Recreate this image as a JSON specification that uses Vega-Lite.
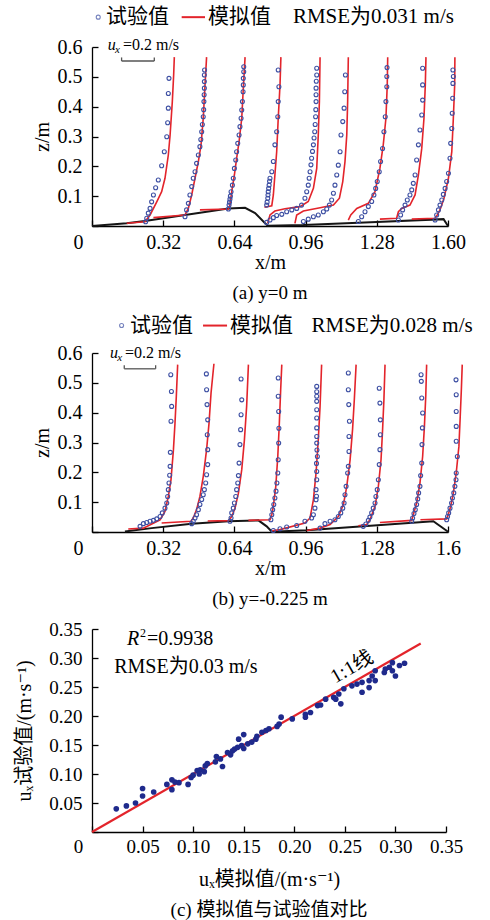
{
"$schema": "https://vega.github.io/schema/vega-lite/v6.json",
"padding": {"left": 14, "top": 6, "right": 0, "bottom": 0},
"spacing": 11,
"config": {
 "view": {"stroke": null},
 "font": "Liberation Serif, Noto Sans CJK SC",
 "axis": {"domainColor": "#000", "domainWidth": 1.3, "tickColor": "#000", "tickWidth": 1.3, "tickSize": -6, "labelFont": "Liberation Serif", "labelFontSize": 20, "labelColor": "#000", "titleFont": "Liberation Serif, DejaVu Serif, Noto Sans CJK SC", "titleFontSize": 20, "titleFontWeight": "normal", "titleColor": "#000", "grid": false, "labelPadding": 12, "labelFlush": false, "labelOverlap": false},
 "title": {"font": "Liberation Serif, Noto Sans CJK SC", "fontSize": 19, "fontWeight": "normal", "color": "#000"},
 "text": {"font": "Liberation Serif, Noto Sans CJK SC", "color": "#000"}
},
"datasets": {
 "bedA": [{"x":0,"z":0},{"x":0.156,"z":0.009},{"x":0.238,"z":0.017},{"x":0.418,"z":0.037},{"x":0.613,"z":0.059},{"x":0.688,"z":0.061},{"x":0.733,"z":0.043},{"x":0.778,"z":0.009},{"x":0.79,"z":0.001},{"x":0.95,"z":0.003},{"x":1.28,"z":0.013},{"x":1.58,"z":0.023},{"x":1.6,"z":0}],
 "simA": [
  {"p":1,"x":0.156,"z":0.009},{"p":1,"x":0.238,"z":0.014},{"p":1,"x":0.261,"z":0.037},{"p":1,"x":0.291,"z":0.081},{"p":1,"x":0.313,"z":0.115},{"p":1,"x":0.328,"z":0.16},{"p":1,"x":0.343,"z":0.238},{"p":1,"x":0.351,"z":0.305},{"p":1,"x":0.361,"z":0.417},{"p":1,"x":0.367,"z":0.506},{"p":1,"x":0.37,"z":0.566},
  {"p":2,"x":0.276,"z":0.028},{"p":2,"x":0.418,"z":0.037},{"p":2,"x":0.433,"z":0.059},{"p":2,"x":0.448,"z":0.104},{"p":2,"x":0.463,"z":0.16},{"p":2,"x":0.478,"z":0.216},{"p":2,"x":0.49,"z":0.272},{"p":2,"x":0.5,"z":0.361},{"p":2,"x":0.508,"z":0.473},{"p":2,"x":0.515,"z":0.566},
  {"p":3,"x":0.485,"z":0.054},{"p":3,"x":0.613,"z":0.057},{"p":3,"x":0.62,"z":0.07},{"p":3,"x":0.628,"z":0.115},{"p":3,"x":0.64,"z":0.171},{"p":3,"x":0.65,"z":0.227},{"p":3,"x":0.661,"z":0.283},{"p":3,"x":0.673,"z":0.361},{"p":3,"x":0.68,"z":0.462},{"p":3,"x":0.688,"z":0.566},
  {"p":4,"x":0.775,"z":0.063},{"p":4,"x":0.808,"z":0.068},{"p":4,"x":0.815,"z":0.104},{"p":4,"x":0.822,"z":0.171},{"p":4,"x":0.83,"z":0.249},{"p":4,"x":0.837,"z":0.361},{"p":4,"x":0.845,"z":0.473},{"p":4,"x":0.849,"z":0.566},
  {"p":5,"x":0.79,"z":0.009},{"p":5,"x":0.8,"z":0.037},{"p":5,"x":0.822,"z":0.05},{"p":5,"x":0.867,"z":0.058},{"p":5,"x":0.935,"z":0.065},{"p":5,"x":0.972,"z":0.082},{"p":5,"x":0.995,"z":0.126},{"p":5,"x":1.01,"z":0.193},{"p":5,"x":1.017,"z":0.305},{"p":5,"x":1.022,"z":0.417},{"p":5,"x":1.025,"z":0.566},
  {"p":6,"x":0.912,"z":0.009},{"p":6,"x":0.92,"z":0.037},{"p":6,"x":0.95,"z":0.05},{"p":6,"x":1.025,"z":0.061},{"p":6,"x":1.085,"z":0.07},{"p":6,"x":1.112,"z":0.093},{"p":6,"x":1.127,"z":0.149},{"p":6,"x":1.137,"z":0.216},{"p":6,"x":1.145,"z":0.305},{"p":6,"x":1.149,"z":0.417},{"p":6,"x":1.152,"z":0.566},
  {"p":7,"x":1.152,"z":0.02},{"p":7,"x":1.163,"z":0.037},{"p":7,"x":1.19,"z":0.059},{"p":7,"x":1.242,"z":0.076},{"p":7,"x":1.272,"z":0.115},{"p":7,"x":1.294,"z":0.193},{"p":7,"x":1.309,"z":0.272},{"p":7,"x":1.321,"z":0.361},{"p":7,"x":1.327,"z":0.473},{"p":7,"x":1.329,"z":0.566},
  {"p":8,"x":1.294,"z":0.023},{"p":8,"x":1.369,"z":0.026},{"p":8,"x":1.377,"z":0.048},{"p":8,"x":1.392,"z":0.059},{"p":8,"x":1.429,"z":0.07},{"p":8,"x":1.452,"z":0.104},{"p":8,"x":1.467,"z":0.171},{"p":8,"x":1.482,"z":0.26},{"p":8,"x":1.492,"z":0.361},{"p":8,"x":1.498,"z":0.473},{"p":8,"x":1.501,"z":0.566},
  {"p":9,"x":1.437,"z":0.023},{"p":9,"x":1.542,"z":0.026},{"p":9,"x":1.552,"z":0.037},{"p":9,"x":1.564,"z":0.054},{"p":9,"x":1.582,"z":0.093},{"p":9,"x":1.602,"z":0.16},{"p":9,"x":1.617,"z":0.249},{"p":9,"x":1.624,"z":0.361},{"p":9,"x":1.63,"z":0.473},{"p":9,"x":1.631,"z":0.566}
 ],
 "expA": [
  {"p":1,"x":0.241,"z":0.014},{"p":1,"x":0.246,"z":0.026},{"p":1,"x":0.253,"z":0.043},{"p":1,"x":0.261,"z":0.059},{"p":1,"x":0.268,"z":0.081},{"p":1,"x":0.276,"z":0.104},{"p":1,"x":0.286,"z":0.128},{"p":1,"x":0.298,"z":0.154},{"p":1,"x":0.313,"z":0.202},{"p":1,"x":0.325,"z":0.249},{"p":1,"x":0.336,"z":0.299},{"p":1,"x":0.34,"z":0.346},{"p":1,"x":0.343,"z":0.395},{"p":1,"x":0.343,"z":0.444},{"p":1,"x":0.346,"z":0.495},
  {"p":2,"x":0.418,"z":0.031},{"p":2,"x":0.425,"z":0.054},{"p":2,"x":0.433,"z":0.076},{"p":2,"x":0.44,"z":0.104},{"p":2,"x":0.448,"z":0.132},{"p":2,"x":0.455,"z":0.16},{"p":2,"x":0.463,"z":0.182},{"p":2,"x":0.47,"z":0.21},{"p":2,"x":0.478,"z":0.238},{"p":2,"x":0.485,"z":0.266},{"p":2,"x":0.489,"z":0.29},{"p":2,"x":0.493,"z":0.316},{"p":2,"x":0.496,"z":0.34},{"p":2,"x":0.5,"z":0.366},{"p":2,"x":0.502,"z":0.39},{"p":2,"x":0.503,"z":0.417},{"p":2,"x":0.504,"z":0.44},{"p":2,"x":0.505,"z":0.462},{"p":2,"x":0.505,"z":0.484},{"p":2,"x":0.505,"z":0.506},{"p":2,"x":0.506,"z":0.523},
  {"p":3,"x":0.613,"z":0.057},{"p":3,"x":0.616,"z":0.07},{"p":3,"x":0.618,"z":0.08},{"p":3,"x":0.62,"z":0.09},{"p":3,"x":0.622,"z":0.1},{"p":3,"x":0.625,"z":0.115},{"p":3,"x":0.631,"z":0.137},{"p":3,"x":0.635,"z":0.16},{"p":3,"x":0.64,"z":0.193},{"p":3,"x":0.646,"z":0.221},{"p":3,"x":0.65,"z":0.249},{"p":3,"x":0.655,"z":0.277},{"p":3,"x":0.661,"z":0.305},{"p":3,"x":0.665,"z":0.333},{"p":3,"x":0.67,"z":0.361},{"p":3,"x":0.673,"z":0.389},{"p":3,"x":0.676,"z":0.417},{"p":3,"x":0.679,"z":0.45},{"p":3,"x":0.68,"z":0.473},{"p":3,"x":0.68,"z":0.495},{"p":3,"x":0.682,"z":0.517},{"p":3,"x":0.682,"z":0.534},
  {"p":4,"x":0.785,"z":0.07},{"p":4,"x":0.787,"z":0.08},{"p":4,"x":0.79,"z":0.093},{"p":4,"x":0.791,"z":0.104},{"p":4,"x":0.792,"z":0.115},{"p":4,"x":0.794,"z":0.126},{"p":4,"x":0.796,"z":0.137},{"p":4,"x":0.798,"z":0.15},{"p":4,"x":0.8,"z":0.16},{"p":4,"x":0.808,"z":0.182},{"p":4,"x":0.815,"z":0.216},{"p":4,"x":0.822,"z":0.272},{"p":4,"x":0.83,"z":0.316},{"p":4,"x":0.835,"z":0.366},{"p":4,"x":0.837,"z":0.417},{"p":4,"x":0.84,"z":0.467},{"p":4,"x":0.837,"z":0.523},
  {"p":5,"x":0.785,"z":0.012},{"p":5,"x":0.8,"z":0.02},{"p":5,"x":0.815,"z":0.028},{"p":5,"x":0.83,"z":0.035},{"p":5,"x":0.853,"z":0.039},{"p":5,"x":0.875,"z":0.048},{"p":5,"x":0.898,"z":0.054},{"p":5,"x":0.92,"z":0.059},{"p":5,"x":0.942,"z":0.07},{"p":5,"x":0.957,"z":0.093},{"p":5,"x":0.965,"z":0.115},{"p":5,"x":0.972,"z":0.137},{"p":5,"x":0.976,"z":0.16},{"p":5,"x":0.98,"z":0.182},{"p":5,"x":0.984,"z":0.205},{"p":5,"x":0.987,"z":0.227},{"p":5,"x":0.991,"z":0.25},{"p":5,"x":0.995,"z":0.272},{"p":5,"x":0.998,"z":0.295},{"p":5,"x":1.001,"z":0.316},{"p":5,"x":1.003,"z":0.34},{"p":5,"x":1.005,"z":0.366},{"p":5,"x":1.006,"z":0.39},{"p":5,"x":1.007,"z":0.417},{"p":5,"x":1.007,"z":0.44},{"p":5,"x":1.007,"z":0.462},{"p":5,"x":1.008,"z":0.485},{"p":5,"x":1.01,"z":0.506},{"p":5,"x":1.01,"z":0.529},
  {"p":6,"x":0.95,"z":0.015},{"p":6,"x":0.972,"z":0.023},{"p":6,"x":0.995,"z":0.031},{"p":6,"x":1.017,"z":0.037},{"p":6,"x":1.04,"z":0.048},{"p":6,"x":1.055,"z":0.057},{"p":6,"x":1.067,"z":0.07},{"p":6,"x":1.077,"z":0.087},{"p":6,"x":1.085,"z":0.11},{"p":6,"x":1.092,"z":0.137},{"p":6,"x":1.1,"z":0.171},{"p":6,"x":1.107,"z":0.204},{"p":6,"x":1.115,"z":0.249},{"p":6,"x":1.119,"z":0.305},{"p":6,"x":1.127,"z":0.35},{"p":6,"x":1.133,"z":0.395},{"p":6,"x":1.136,"z":0.45},{"p":6,"x":1.139,"z":0.506},
  {"p":7,"x":1.197,"z":0.015},{"p":7,"x":1.212,"z":0.031},{"p":7,"x":1.227,"z":0.048},{"p":7,"x":1.242,"z":0.065},{"p":7,"x":1.257,"z":0.082},{"p":7,"x":1.267,"z":0.104},{"p":7,"x":1.275,"z":0.126},{"p":7,"x":1.282,"z":0.149},{"p":7,"x":1.291,"z":0.182},{"p":7,"x":1.297,"z":0.216},{"p":7,"x":1.306,"z":0.26},{"p":7,"x":1.312,"z":0.316},{"p":7,"x":1.318,"z":0.366},{"p":7,"x":1.321,"z":0.417},{"p":7,"x":1.325,"z":0.467},{"p":7,"x":1.325,"z":0.501},{"p":7,"x":1.326,"z":0.531},
  {"p":8,"x":1.377,"z":0.02},{"p":8,"x":1.387,"z":0.037},{"p":8,"x":1.396,"z":0.054},{"p":8,"x":1.407,"z":0.07},{"p":8,"x":1.417,"z":0.087},{"p":8,"x":1.429,"z":0.104},{"p":8,"x":1.437,"z":0.121},{"p":8,"x":1.444,"z":0.143},{"p":8,"x":1.452,"z":0.171},{"p":8,"x":1.459,"z":0.221},{"p":8,"x":1.467,"z":0.272},{"p":8,"x":1.474,"z":0.322},{"p":8,"x":1.482,"z":0.372},{"p":8,"x":1.486,"z":0.422},{"p":8,"x":1.486,"z":0.473},{"p":8,"x":1.486,"z":0.529},
  {"p":9,"x":1.542,"z":0.02},{"p":9,"x":1.549,"z":0.037},{"p":9,"x":1.557,"z":0.054},{"p":9,"x":1.564,"z":0.07},{"p":9,"x":1.572,"z":0.087},{"p":9,"x":1.579,"z":0.106},{"p":9,"x":1.587,"z":0.126},{"p":9,"x":1.594,"z":0.149},{"p":9,"x":1.602,"z":0.177},{"p":9,"x":1.609,"z":0.227},{"p":9,"x":1.612,"z":0.277},{"p":9,"x":1.617,"z":0.327},{"p":9,"x":1.619,"z":0.378},{"p":9,"x":1.621,"z":0.428},{"p":9,"x":1.622,"z":0.478},{"p":9,"x":1.624,"z":0.501},{"p":9,"x":1.622,"z":0.523}
 ],
 "bedB": [{"x":0.148,"z":0.002},{"x":0.268,"z":0.013},{"x":0.448,"z":0.028},{"x":0.613,"z":0.036},{"x":0.748,"z":0.039},{"x":0.785,"z":0.019},{"x":0.808,"z":0.001},{"x":0.965,"z":0.006},{"x":1.22,"z":0.019},{"x":1.534,"z":0.036},{"x":1.602,"z":0}],
 "simB": [
  {"p":1,"x":0.163,"z":0.01},{"p":1,"x":0.231,"z":0.013},{"p":1,"x":0.306,"z":0.041},{"p":1,"x":0.328,"z":0.069},{"p":1,"x":0.343,"z":0.119},{"p":1,"x":0.355,"z":0.175},{"p":1,"x":0.366,"z":0.276},{"p":1,"x":0.373,"z":0.365},{"p":1,"x":0.379,"z":0.455},{"p":1,"x":0.385,"z":0.561},
  {"p":2,"x":0.313,"z":0.03},{"p":2,"x":0.445,"z":0.036},{"p":2,"x":0.455,"z":0.047},{"p":2,"x":0.47,"z":0.075},{"p":2,"x":0.485,"z":0.119},{"p":2,"x":0.5,"z":0.186},{"p":2,"x":0.515,"z":0.276},{"p":2,"x":0.526,"z":0.365},{"p":2,"x":0.535,"z":0.466},{"p":2,"x":0.548,"z":0.564},
  {"p":3,"x":0.52,"z":0.037},{"p":3,"x":0.613,"z":0.038},{"p":3,"x":0.628,"z":0.052},{"p":3,"x":0.643,"z":0.08},{"p":3,"x":0.658,"z":0.13},{"p":3,"x":0.673,"z":0.209},{"p":3,"x":0.685,"z":0.309},{"p":3,"x":0.695,"z":0.421},{"p":3,"x":0.703,"z":0.561},
  {"p":4,"x":0.703,"z":0.039},{"p":4,"x":0.8,"z":0.041},{"p":4,"x":0.808,"z":0.058},{"p":4,"x":0.815,"z":0.086},{"p":4,"x":0.826,"z":0.153},{"p":4,"x":0.835,"z":0.253},{"p":4,"x":0.842,"z":0.365},{"p":4,"x":0.848,"z":0.477},{"p":4,"x":0.853,"z":0.561},
  {"p":5,"x":0.81,"z":0.004},{"p":5,"x":0.845,"z":0.008},{"p":5,"x":0.957,"z":0.03},{"p":5,"x":0.98,"z":0.047},{"p":5,"x":0.995,"z":0.108},{"p":5,"x":1.007,"z":0.198},{"p":5,"x":1.017,"z":0.309},{"p":5,"x":1.025,"z":0.421},{"p":5,"x":1.032,"z":0.561},
  {"p":6,"x":0.965,"z":0.005},{"p":6,"x":1.025,"z":0.013},{"p":6,"x":1.07,"z":0.025},{"p":6,"x":1.107,"z":0.052},{"p":6,"x":1.13,"z":0.092},{"p":6,"x":1.145,"z":0.153},{"p":6,"x":1.16,"z":0.242},{"p":6,"x":1.171,"z":0.343},{"p":6,"x":1.179,"z":0.444},{"p":6,"x":1.187,"z":0.561},
  {"p":7,"x":1.197,"z":0.021},{"p":7,"x":1.235,"z":0.025},{"p":7,"x":1.249,"z":0.041},{"p":7,"x":1.272,"z":0.086},{"p":7,"x":1.287,"z":0.153},{"p":7,"x":1.299,"z":0.242},{"p":7,"x":1.306,"z":0.343},{"p":7,"x":1.312,"z":0.444},{"p":7,"x":1.317,"z":0.561},
  {"p":8,"x":1.294,"z":0.032},{"p":8,"x":1.437,"z":0.039},{"p":8,"x":1.444,"z":0.058},{"p":8,"x":1.459,"z":0.097},{"p":8,"x":1.474,"z":0.164},{"p":8,"x":1.486,"z":0.253},{"p":8,"x":1.494,"z":0.354},{"p":8,"x":1.5,"z":0.455},{"p":8,"x":1.504,"z":0.561},
  {"p":9,"x":1.476,"z":0.041},{"p":9,"x":1.594,"z":0.044},{"p":9,"x":1.601,"z":0.058},{"p":9,"x":1.612,"z":0.086},{"p":9,"x":1.624,"z":0.13},{"p":9,"x":1.637,"z":0.198},{"p":9,"x":1.649,"z":0.287},{"p":9,"x":1.655,"z":0.388},{"p":9,"x":1.66,"z":0.477},{"p":9,"x":1.664,"z":0.561}
 ],
 "expB": [
  {"p":1,"x":0.216,"z":0.019},{"p":1,"x":0.231,"z":0.028},{"p":1,"x":0.246,"z":0.032},{"p":1,"x":0.261,"z":0.036},{"p":1,"x":0.276,"z":0.039},{"p":1,"x":0.291,"z":0.044},{"p":1,"x":0.306,"z":0.052},{"p":1,"x":0.316,"z":0.064},{"p":1,"x":0.328,"z":0.08},{"p":1,"x":0.336,"z":0.097},{"p":1,"x":0.34,"z":0.119},{"p":1,"x":0.343,"z":0.142},{"p":1,"x":0.346,"z":0.164},{"p":1,"x":0.349,"z":0.19},{"p":1,"x":0.351,"z":0.22},{"p":1,"x":0.352,"z":0.267},{"p":1,"x":0.355,"z":0.371},{"p":1,"x":0.358,"z":0.421},{"p":1,"x":0.357,"z":0.471},{"p":1,"x":0.354,"z":0.527},
  {"p":2,"x":0.448,"z":0.028},{"p":2,"x":0.455,"z":0.036},{"p":2,"x":0.463,"z":0.047},{"p":2,"x":0.47,"z":0.058},{"p":2,"x":0.478,"z":0.075},{"p":2,"x":0.485,"z":0.092},{"p":2,"x":0.493,"z":0.109},{"p":2,"x":0.5,"z":0.125},{"p":2,"x":0.505,"z":0.142},{"p":2,"x":0.511,"z":0.164},{"p":2,"x":0.515,"z":0.192},{"p":2,"x":0.52,"z":0.226},{"p":2,"x":0.52,"z":0.276},{"p":2,"x":0.518,"z":0.326},{"p":2,"x":0.52,"z":0.376},{"p":2,"x":0.517,"z":0.427},{"p":2,"x":0.515,"z":0.477},{"p":2,"x":0.514,"z":0.53},
  {"p":3,"x":0.62,"z":0.036},{"p":3,"x":0.625,"z":0.047},{"p":3,"x":0.628,"z":0.064},{"p":3,"x":0.635,"z":0.08},{"p":3,"x":0.64,"z":0.097},{"p":3,"x":0.646,"z":0.119},{"p":3,"x":0.65,"z":0.142},{"p":3,"x":0.655,"z":0.164},{"p":3,"x":0.658,"z":0.189},{"p":3,"x":0.661,"z":0.231},{"p":3,"x":0.665,"z":0.293},{"p":3,"x":0.668,"z":0.343},{"p":3,"x":0.67,"z":0.393},{"p":3,"x":0.673,"z":0.443},{"p":3,"x":0.67,"z":0.513},
  {"p":4,"x":0.804,"z":0.041},{"p":4,"x":0.808,"z":0.058},{"p":4,"x":0.812,"z":0.075},{"p":4,"x":0.817,"z":0.092},{"p":4,"x":0.822,"z":0.114},{"p":4,"x":0.827,"z":0.137},{"p":4,"x":0.831,"z":0.164},{"p":4,"x":0.835,"z":0.198},{"p":4,"x":0.837,"z":0.242},{"p":4,"x":0.839,"z":0.298},{"p":4,"x":0.84,"z":0.348},{"p":4,"x":0.839,"z":0.404},{"p":4,"x":0.837,"z":0.455},{"p":4,"x":0.837,"z":0.516},
  {"p":5,"x":0.815,"z":0.005},{"p":5,"x":0.845,"z":0.011},{"p":5,"x":0.875,"z":0.017},{"p":5,"x":0.92,"z":0.022},{"p":5,"x":0.957,"z":0.036},{"p":5,"x":0.987,"z":0.047},{"p":5,"x":0.995,"z":0.058},{"p":5,"x":1.002,"z":0.08},{"p":5,"x":1.007,"z":0.108},{"p":5,"x":1.009,"z":0.12},{"p":5,"x":1.007,"z":0.142},{"p":5,"x":1.01,"z":0.175},{"p":5,"x":1.01,"z":0.203},{"p":5,"x":1.009,"z":0.23},{"p":5,"x":1.013,"z":0.253},{"p":5,"x":1.011,"z":0.275},{"p":5,"x":1.01,"z":0.298},{"p":5,"x":1.01,"z":0.32},{"p":5,"x":1.01,"z":0.349},{"p":5,"x":1.01,"z":0.382},{"p":5,"x":1.01,"z":0.41},{"p":5,"x":1.01,"z":0.438},{"p":5,"x":1.01,"z":0.455},{"p":5,"x":1.01,"z":0.47},{"p":5,"x":1.01,"z":0.488},
  {"p":6,"x":1.025,"z":0.013},{"p":6,"x":1.047,"z":0.028},{"p":6,"x":1.07,"z":0.036},{"p":6,"x":1.092,"z":0.041},{"p":6,"x":1.107,"z":0.052},{"p":6,"x":1.118,"z":0.064},{"p":6,"x":1.127,"z":0.08},{"p":6,"x":1.133,"z":0.097},{"p":6,"x":1.137,"z":0.125},{"p":6,"x":1.142,"z":0.153},{"p":6,"x":1.149,"z":0.198},{"p":6,"x":1.152,"z":0.22},{"p":6,"x":1.155,"z":0.27},{"p":6,"x":1.155,"z":0.32},{"p":6,"x":1.157,"z":0.371},{"p":6,"x":1.154,"z":0.427},{"p":6,"x":1.152,"z":0.477},{"p":6,"x":1.152,"z":0.533},
  {"p":7,"x":1.219,"z":0.019},{"p":7,"x":1.231,"z":0.027},{"p":7,"x":1.242,"z":0.039},{"p":7,"x":1.249,"z":0.05},{"p":7,"x":1.257,"z":0.064},{"p":7,"x":1.264,"z":0.08},{"p":7,"x":1.272,"z":0.097},{"p":7,"x":1.276,"z":0.119},{"p":7,"x":1.282,"z":0.142},{"p":7,"x":1.287,"z":0.175},{"p":7,"x":1.291,"z":0.226},{"p":7,"x":1.294,"z":0.276},{"p":7,"x":1.296,"z":0.326},{"p":7,"x":1.296,"z":0.376},{"p":7,"x":1.294,"z":0.432},{"p":7,"x":1.291,"z":0.482},
  {"p":8,"x":1.437,"z":0.036},{"p":8,"x":1.441,"z":0.047},{"p":8,"x":1.447,"z":0.062},{"p":8,"x":1.453,"z":0.075},{"p":8,"x":1.459,"z":0.092},{"p":8,"x":1.464,"z":0.111},{"p":8,"x":1.468,"z":0.131},{"p":8,"x":1.474,"z":0.153},{"p":8,"x":1.477,"z":0.189},{"p":8,"x":1.482,"z":0.231},{"p":8,"x":1.483,"z":0.293},{"p":8,"x":1.485,"z":0.349},{"p":8,"x":1.486,"z":0.399},{"p":8,"x":1.482,"z":0.449},{"p":8,"x":1.48,"z":0.505},{"p":8,"x":1.479,"z":0.527},
  {"p":9,"x":1.594,"z":0.041},{"p":9,"x":1.598,"z":0.052},{"p":9,"x":1.603,"z":0.064},{"p":9,"x":1.609,"z":0.08},{"p":9,"x":1.616,"z":0.097},{"p":9,"x":1.62,"z":0.114},{"p":9,"x":1.626,"z":0.131},{"p":9,"x":1.631,"z":0.153},{"p":9,"x":1.636,"z":0.175},{"p":9,"x":1.637,"z":0.198},{"p":9,"x":1.642,"z":0.253},{"p":9,"x":1.637,"z":0.304},{"p":9,"x":1.637,"z":0.354},{"p":9,"x":1.637,"z":0.404},{"p":9,"x":1.637,"z":0.46},{"p":9,"x":1.636,"z":0.51}
 ],
 "scat": [
  {"x":0.024,"y":0.04},{"x":0.034,"y":0.045},{"x":0.043,"y":0.05},{"x":0.05,"y":0.062},{"x":0.05,"y":0.075},{"x":0.061,"y":0.069},{"x":0.074,"y":0.082},{"x":0.079,"y":0.09},{"x":0.079,"y":0.073},{"x":0.082,"y":0.086},{"x":0.086,"y":0.085},{"x":0.095,"y":0.082},{"x":0.098,"y":0.094},{"x":0.1,"y":0.098},{"x":0.104,"y":0.106},{"x":0.107,"y":0.107},{"x":0.106,"y":0.1},{"x":0.111,"y":0.104},{"x":0.112,"y":0.114},{"x":0.114,"y":0.118},{"x":0.122,"y":0.121},{"x":0.123,"y":0.13},{"x":0.127,"y":0.126},{"x":0.129,"y":0.113},{"x":0.134,"y":0.137},{"x":0.137,"y":0.133},{"x":0.139,"y":0.14},{"x":0.141,"y":0.143},{"x":0.144,"y":0.146},{"x":0.145,"y":0.16},{"x":0.15,"y":0.168},{"x":0.148,"y":0.149},{"x":0.15,"y":0.144},{"x":0.154,"y":0.152},{"x":0.158,"y":0.155},{"x":0.162,"y":0.16},{"x":0.163,"y":0.165},{"x":0.168,"y":0.172},{"x":0.172,"y":0.175},{"x":0.175,"y":0.178},{"x":0.183,"y":0.182},{"x":0.185,"y":0.186},{"x":0.187,"y":0.198},{"x":0.198,"y":0.195},{"x":0.211,"y":0.203},{"x":0.211,"y":0.198},{"x":0.216,"y":0.206},{"x":0.223,"y":0.218},{"x":0.226,"y":0.219},{"x":0.231,"y":0.229},{"x":0.239,"y":0.232},{"x":0.241,"y":0.229},{"x":0.246,"y":0.221},{"x":0.244,"y":0.238},{"x":0.249,"y":0.247},{"x":0.257,"y":0.252},{"x":0.262,"y":0.255},{"x":0.267,"y":0.258},{"x":0.267,"y":0.241},{"x":0.274,"y":0.249},{"x":0.274,"y":0.261},{"x":0.277,"y":0.269},{"x":0.28,"y":0.261},{"x":0.28,"y":0.278},{"x":0.29,"y":0.281},{"x":0.289,"y":0.275},{"x":0.294,"y":0.284},{"x":0.297,"y":0.292},{"x":0.297,"y":0.278},{"x":0.3,"y":0.269},{"x":0.304,"y":0.287},{"x":0.309,"y":0.291}
 ]
},
"vconcat": [
 {
  "width": 356, "height": 179,
  "title": {"text": "(a) y=0 m", "orient": "bottom", "offset": 12},
  "encoding": {
   "x": {"field": "x", "type": "quantitative", "scale": {"domain": [0, 1.6], "nice": false, "zero": false}, "axis": {"values": [0, 0.32, 0.64, 0.96, 1.28, 1.6], "title": "x/m", "titlePadding": 0, "labelExpr": "datum.value === 0 ? '0' : format(datum.value, '.2f')", "labelOffset": {"condition": {"test": "datum.value === 0", "value": -14}, "value": 0}}},
   "y": {"field": "z", "type": "quantitative", "scale": {"domain": [0, 0.6], "nice": false, "zero": false}, "axis": {"values": [0, 0.1, 0.2, 0.3, 0.4, 0.5, 0.6], "title": "z/m", "titlePadding": 5, "labelPadding": 16, "labelExpr": "datum.value === 0 ? '' : format(datum.value, '.1f')"}}
  },
  "layer": [
   {"data": {"name": "bedA"}, "mark": {"type": "line", "color": "#151515", "strokeWidth": 2}},
   {"data": {"name": "simA"}, "mark": {"type": "line", "color": "#e3242b", "strokeWidth": 1.6}, "encoding": {"detail": {"field": "p"}, "order": {"field": "z"}}},
   {"data": {"name": "expA"}, "mark": {"type": "point", "shape": "circle", "filled": false, "color": "#3d4fa3", "size": 16, "strokeWidth": 1.1, "opacity": 1}},
   {"data": {"values": [{"x": 0.133, "x2": 0.28, "z": 0.553, "z2": 0.553}, {"x": 0.133, "x2": 0.133, "z": 0.553, "z2": 0.565}, {"x": 0.28, "x2": 0.28, "z": 0.553, "z2": 0.565}]}, "mark": {"type": "rule", "color": "#555", "strokeWidth": 1.3}, "encoding": {"x2": {"field": "x2"}, "y2": {"field": "z2"}}},
   {"data": {"values": [{"x": 0.071, "z": 0.59, "t": "u"}]}, "mark": {"type": "text", "align": "left", "baseline": "alphabetic", "fontStyle": "italic", "fontSize": 16}, "encoding": {"text": {"field": "t"}}},
   {"data": {"values": [{"x": 0.103, "z": 0.59, "t": "x"}]}, "mark": {"type": "text", "align": "left", "baseline": "alphabetic", "fontStyle": "italic", "fontSize": 11, "dy": 3}, "encoding": {"text": {"field": "t"}}},
   {"data": {"values": [{"x": 0.139, "z": 0.59, "t": "=0.2 m/s"}]}, "mark": {"type": "text", "align": "left", "baseline": "alphabetic", "fontSize": 16}, "encoding": {"text": {"field": "t"}}},
   {"data": {"values": [{"x": 0.028, "z": 0.7}]}, "mark": {"type": "point", "shape": "circle", "filled": false, "color": "#3d4fa3", "size": 16, "strokeWidth": 1.1}},
   {"data": {"values": [{"x": 0.403, "x2": 0.508, "z": 0.7}]}, "mark": {"type": "rule", "color": "#e3242b", "strokeWidth": 2}, "encoding": {"x2": {"field": "x2"}}},
   {"data": {"values": [{"x": 0.063, "z": 0.7, "t": "试验值"}, {"x": 0.521, "z": 0.7, "t": "模拟值"}, {"x": 0.903, "z": 0.7, "t": "RMSE为0.031 m/s"}]}, "mark": {"type": "text", "align": "left", "baseline": "middle", "fontSize": 21}, "encoding": {"text": {"field": "t"}}}
  ]
 },
 {
  "width": 356, "height": 179,
  "title": {"text": "(b) y=-0.225 m", "orient": "bottom", "offset": 12},
  "encoding": {
   "x": {"field": "x", "type": "quantitative", "scale": {"domain": [0, 1.6], "nice": false, "zero": false}, "axis": {"values": [0, 0.32, 0.64, 0.96, 1.28, 1.6], "title": "x/m", "titlePadding": 0, "labelExpr": "datum.value === 0 ? '0' : datum.value === 1.6 ? '1.6' : format(datum.value, '.2f')", "labelOffset": {"condition": {"test": "datum.value === 0", "value": -14}, "value": 0}}},
   "y": {"field": "z", "type": "quantitative", "scale": {"domain": [0, 0.6], "nice": false, "zero": false}, "axis": {"values": [0, 0.1, 0.2, 0.3, 0.4, 0.5, 0.6], "title": "z/m", "titlePadding": 5, "labelPadding": 16, "labelExpr": "datum.value === 0 ? '' : format(datum.value, '.1f')"}}
  },
  "layer": [
   {"data": {"name": "bedB"}, "mark": {"type": "line", "color": "#151515", "strokeWidth": 2}},
   {"data": {"name": "simB"}, "mark": {"type": "line", "color": "#e3242b", "strokeWidth": 1.6}, "encoding": {"detail": {"field": "p"}, "order": {"field": "z"}}},
   {"data": {"name": "expB"}, "mark": {"type": "point", "shape": "circle", "filled": false, "color": "#3d4fa3", "size": 16, "strokeWidth": 1.1, "opacity": 1}},
   {"data": {"values": [{"x": 0.145, "x2": 0.286, "z": 0.547, "z2": 0.547}, {"x": 0.145, "x2": 0.145, "z": 0.547, "z2": 0.559}, {"x": 0.286, "x2": 0.286, "z": 0.547, "z2": 0.559}]}, "mark": {"type": "rule", "color": "#555", "strokeWidth": 1.3}, "encoding": {"x2": {"field": "x2"}, "y2": {"field": "z2"}}},
   {"data": {"values": [{"x": 0.081, "z": 0.583, "t": "u"}]}, "mark": {"type": "text", "align": "left", "baseline": "alphabetic", "fontStyle": "italic", "fontSize": 16}, "encoding": {"text": {"field": "t"}}},
   {"data": {"values": [{"x": 0.113, "z": 0.583, "t": "x"}]}, "mark": {"type": "text", "align": "left", "baseline": "alphabetic", "fontStyle": "italic", "fontSize": 11, "dy": 3}, "encoding": {"text": {"field": "t"}}},
   {"data": {"values": [{"x": 0.148, "z": 0.583, "t": "=0.2 m/s"}]}, "mark": {"type": "text", "align": "left", "baseline": "alphabetic", "fontSize": 16}, "encoding": {"text": {"field": "t"}}},
   {"data": {"values": [{"x": 0.133, "z": 0.692}]}, "mark": {"type": "point", "shape": "circle", "filled": false, "color": "#3d4fa3", "size": 16, "strokeWidth": 1.1}},
   {"data": {"values": [{"x": 0.499, "x2": 0.607, "z": 0.692}]}, "mark": {"type": "rule", "color": "#e3242b", "strokeWidth": 2}, "encoding": {"x2": {"field": "x2"}}},
   {"data": {"values": [{"x": 0.171, "z": 0.692, "t": "试验值"}, {"x": 0.62, "z": 0.692, "t": "模拟值"}, {"x": 0.987, "z": 0.692, "t": "RMSE为0.028 m/s"}]}, "mark": {"type": "text", "align": "left", "baseline": "middle", "fontSize": 21}, "encoding": {"text": {"field": "t"}}}
  ]
 },
 {
  "width": 354, "height": 203,
  "title": {"text": "(c) 模拟值与试验值对比", "orient": "bottom", "offset": 12},
  "encoding": {
   "x": {"field": "x", "type": "quantitative", "scale": {"domain": [0, 0.35], "nice": false, "zero": false}, "axis": {"values": [0, 0.05, 0.1, 0.15, 0.2, 0.25, 0.3, 0.35], "title": "uₓ模拟值/(m·s⁻¹)", "titlePadding": 13, "labelFontSize": 19, "labelPadding": 11, "labelExpr": "datum.value === 0 ? '0' : format(datum.value, '.2f')", "labelOffset": {"condition": {"test": "datum.value === 0", "value": -14}, "value": 0}}},
   "y": {"field": "y", "type": "quantitative", "scale": {"domain": [0, 0.35], "nice": false, "zero": false}, "axis": {"values": [0, 0.05, 0.1, 0.15, 0.2, 0.25, 0.3, 0.35], "title": "uₓ试验值/(m·s⁻¹)", "titlePadding": 14, "labelFontSize": 19, "labelPadding": 16, "labelExpr": "datum.value === 0 ? '' : format(datum.value, '.2f')"}}
  },
  "layer": [
   {"data": {"values": [{"x": 0, "y": 0}, {"x": 0.325, "y": 0.325}]}, "mark": {"type": "line", "color": "#e3242b", "strokeWidth": 2.2}},
   {"data": {"name": "scat"}, "mark": {"type": "point", "shape": "circle", "filled": true, "color": "#1f2a8c", "size": 32, "opacity": 1}},
   {"data": {"values": [{"x": 0.0346, "y": 0.322, "t": "R"}]}, "mark": {"type": "text", "align": "left", "baseline": "alphabetic", "fontStyle": "italic", "fontSize": 20}, "encoding": {"text": {"field": "t"}}},
   {"data": {"values": [{"x": 0.0475, "y": 0.322, "t": "2"}]}, "mark": {"type": "text", "align": "left", "baseline": "alphabetic", "fontSize": 12, "dy": -8}, "encoding": {"text": {"field": "t"}}},
   {"data": {"values": [{"x": 0.0544, "y": 0.322, "t": "=0.9938"}, {"x": 0.022, "y": 0.274, "t": "RMSE为0.03 m/s"}]}, "mark": {"type": "text", "align": "left", "baseline": "alphabetic", "fontSize": 20}, "encoding": {"text": {"field": "t"}}},
   {"data": {"values": [{"x": 0.257, "y": 0.284, "t": "1:1线"}]}, "mark": {"type": "text", "align": "center", "baseline": "middle", "fontSize": 20, "angle": -30}, "encoding": {"text": {"field": "t"}}}
  ]
 }
]
}
